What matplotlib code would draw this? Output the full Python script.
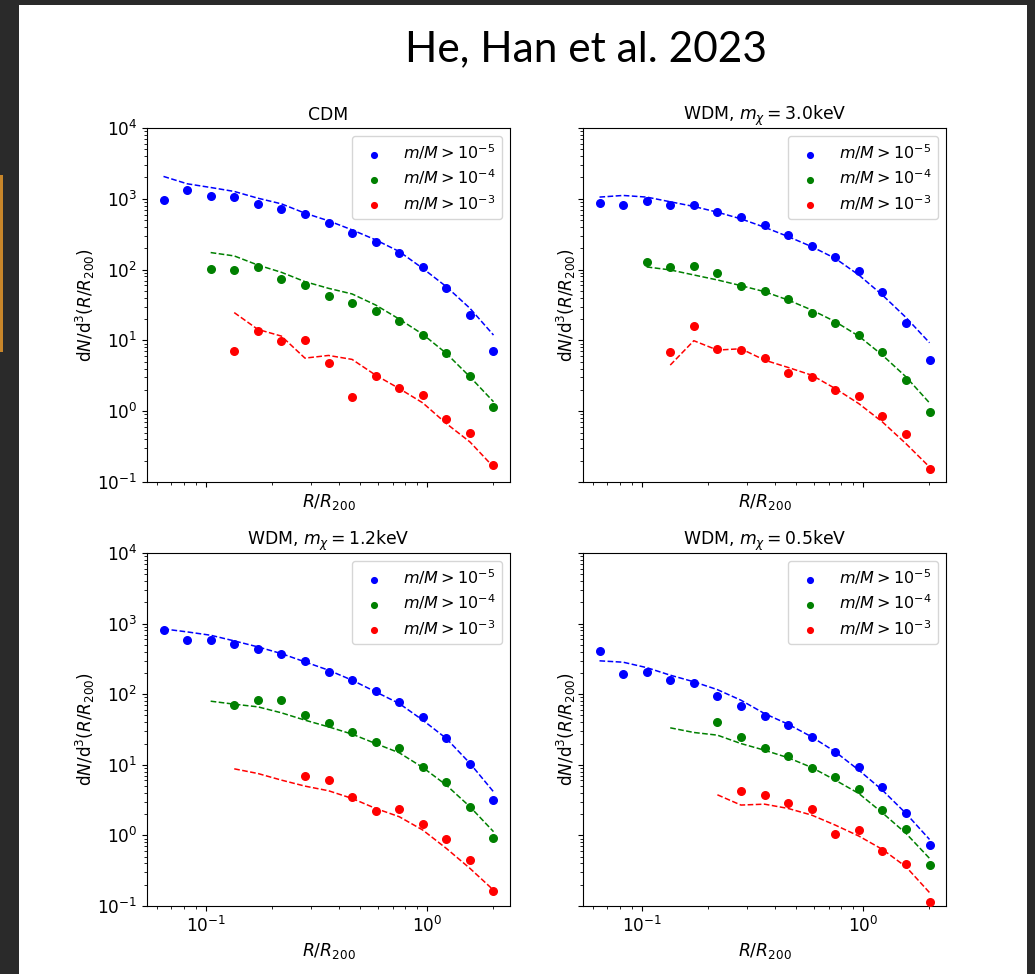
import numpy as np
import matplotlib
matplotlib.use('Agg')
import matplotlib.pyplot as plt
from matplotlib.patches import Rectangle

N = np.nan

# radial bin centres R/R200
R = [0.0645, 0.0825, 0.1054, 0.1347, 0.1722, 0.2201, 0.2812, 0.3594,
     0.4594, 0.5872, 0.7504, 0.9590, 1.2257, 1.5668, 2.0023]

# ---- CDM ----
cdm_pts_5 = [970, 1327, 1100, 1067, 841, 714, 607, 453, 327, 244, 174, 108, 54.4, 22.6, 7.15]
cdm_line_5 = [2070, 1630, 1445, 1270, 1020, 849, 627, 489, 364, 263, 180, 104, 57.4, 28.4, 11.9]
cdm_pts_4 = [N, N, 103, 99, 109, 74.6, 61.4, 42, 33.8, 26, 19, 11.8, 6.69, 3.13, 1.15]
cdm_line_4 = [N, N, 174, 156, 116, 91.6, 67.6, 54.4, 45.3, 31.6, 20, 12.2, 6.55, 3.06, 1.36]
cdm_pts_3 = [N, N, N, 7.06, 13.6, 9.9, 10.1, 4.83, 1.6, 3.13, 2.11, 1.70, 0.78, 0.50, 0.176]
cdm_line_3 = [N, N, N, 24.7, 14.3, 11.5, 5.62, 6.13, 5.39, 3.23, 2.09, 1.31, 0.669, 0.368, 0.163]

# ---- WDM 3.0 keV ----
w30_pts_5 = [869, 823, 937, 805, 813, 647, 562, 424, 306, 216, 153, 95.7, 48.3, 17.6, 5.32]
w30_line_5 = [1057, 1115, 1057, 908, 780, 647, 521, 397, 293, 211, 144, 84, 43.8, 21.1, 9.27]
w30_pts_4 = [N, N, 127, 108, 113, 88.8, 59.4, 49.4, 38, 24.4, 17.8, 11.9, 6.76, 2.75, 0.99]
w30_line_4 = [N, N, 109, 99, 84, 71.4, 59.4, 48.8, 37.2, 26.9, 18.4, 11.5, 6.2, 3.06, 1.31]
w30_pts_3 = [N, N, N, 6.76, 16, 7.62, 7.38, 5.62, 3.52, 3.06, 2.0, 1.63, 0.85, 0.477, 0.155]
w30_line_3 = [N, N, N, 4.48, 9.9, 7.3, 7.62, 5.27, 4.15, 3.23, 2.09, 1.28, 0.706, 0.348, 0.163]

# ---- WDM 1.2 keV ----
w12_pts_5 = [822, 594, 594, 521, 438, 372, 293, 207, 161, 111, 78, 47.3, 24.1, 10.1, 3.13]
w12_line_5 = [841, 763, 684, 569, 468, 376, 287, 219, 158, 108, 73.8, 42.9, 23.6, 10.5, 4.15]
w12_pts_4 = [N, N, N, 71.4, 83.2, 84.1, 51.5, 38.9, 29.6, 20.7, 17.2, 9.27, 5.74, 2.55, 0.908]
w12_line_4 = [N, N, 79.6, 72.2, 66.2, 54.5, 42.9, 34.5, 27.2, 20, 14.8, 9.17, 5.15, 2.55, 1.13]
w12_pts_3 = [N, N, N, N, N, N, 6.98, 6.07, 3.52, 2.21, 2.33, 1.45, 0.877, 0.442, 0.163]
w12_line_3 = [N, N, N, 8.77, 7.53, 6.07, 4.99, 4.29, 3.34, 2.41, 1.84, 1.19, 0.654, 0.341, 0.168]

# ---- WDM 0.5 keV ----
w05_pts_5 = [410, 196, 203, 161, 145, 95.7, 67.6, 48.8, 36.4, 24.4, 15.1, 9.17, 4.83, 2.11, 0.738]
w05_line_5 = [297, 284, 238, 186, 150, 116, 82.2, 53.2, 37.6, 24.9, 15.3, 8.41, 4.38, 2.05, 0.877]
w05_pts_4 = [N, N, N, N, N, 41, 24.6, 17.4, 13.4, 9.07, 6.69, 4.57, 2.28, 1.24, 0.38]
w05_line_4 = [N, N, N, 33.4, 28.7, 26.3, 20, 16.1, 12.6, 9.17, 6.07, 3.93, 2.09, 1.07, 0.473]
w05_pts_3 = [N, N, N, N, N, N, 4.2, 3.68, 2.90, 2.38, 1.03, 1.19, 0.607, 0.397, 0.114]
w05_line_3 = [N, N, N, N, N, 3.76, 2.69, 2.77, 2.41, 1.94, 1.40, 0.98, 0.634, 0.36, 0.155]

titles = ['CDM', r'WDM, $m_{\chi}=3.0$keV', r'WDM, $m_{\chi}=1.2$keV', r'WDM, $m_{\chi}=0.5$keV']
labels = [r'$m/M > 10^{-5}$', r'$m/M > 10^{-4}$', r'$m/M > 10^{-3}$']
colors = ['blue', 'green', 'red']
panels = [
    (cdm_pts_5, cdm_line_5, cdm_pts_4, cdm_line_4, cdm_pts_3, cdm_line_3),
    (w30_pts_5, w30_line_5, w30_pts_4, w30_line_4, w30_pts_3, w30_line_3),
    (w12_pts_5, w12_line_5, w12_pts_4, w12_line_4, w12_pts_3, w12_line_3),
    (w05_pts_5, w05_line_5, w05_pts_4, w05_line_4, w05_pts_3, w05_line_3),
]

W, H = 1035, 974
fig = plt.figure(figsize=(W / 100, H / 100), dpi=100)
fig.patch.set_facecolor('#2a2a2a')
# white slide area
fig.add_artist(Rectangle((19 / W, 0), (1027 - 19) / W, (H - 5) / H,
                         transform=fig.transFigure, facecolor='white',
                         edgecolor='none', zorder=-10))
# orange edge of neighbouring box
fig.add_artist(Rectangle((0, 1 - 352 / H), 2.5 / W, (352 - 175) / H,
                         transform=fig.transFigure, facecolor='#c8862a',
                         edgecolor='none', zorder=-9))

fig.text(405 / W, 1 - 61 / H, 'He, Han et al. 2023', fontsize=30.5,
         family='Lato', va='baseline', ha='left', color='black')

boxes = [(147, 128, 510, 482), (583, 128, 946, 482),
         (147, 553, 510, 906), (583, 553, 946, 906)]

axes = []
for k, (l, t, r, b) in enumerate(boxes):
    ax = fig.add_axes([l / W, 1 - b / H, (r - l) / W, (b - t) / H])
    axes.append(ax)
    data = panels[k]
    for j in range(3):
        pts = np.array(data[2 * j], dtype=float)
        line = np.array(data[2 * j + 1], dtype=float)
        ax.scatter(R, pts, s=30, color=colors[j], label=labels[j], zorder=3)
        ax.plot(R, line, '--', color=colors[j], lw=1.1)
    ax.set_xscale('log')
    ax.set_yscale('log')
    ax.set_ylim(1e-1, 1e4)
    ax.set_title(titles[k], fontsize=12.4)
    ax.set_xlabel(r'$R/R_{200}$', fontsize=12.4)
    ax.set_ylabel(r'$\mathrm{d}N/\mathrm{d}^3(R/R_{200})$', fontsize=12.2,
                  labelpad=0)
    ax.tick_params(labelsize=12.2)
    ax.legend(loc='upper right', fontsize=11.5, markerscale=0.75,
              labelspacing=0.35, handlelength=2.0)
    if k < 2:
        ax.tick_params(axis='x', which='both', labelbottom=False)
    if k % 2 == 1:
        ax.tick_params(axis='y', which='both', labelleft=False)

fig.savefig('out.png', dpi=100, facecolor=fig.get_facecolor())
